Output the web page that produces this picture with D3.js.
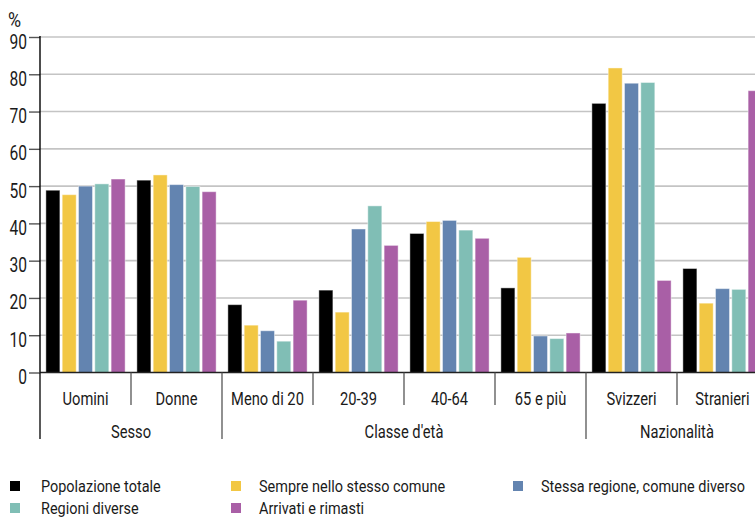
<!DOCTYPE html>
<html><head><meta charset="utf-8">
<script src="https://cdn.jsdelivr.net/npm/d3@7"></script>
<style>
html,body{margin:0;padding:0;background:#fff;}
svg text{font-family:Roboto,"Noto Sans",sans-serif;fill:#1a1a1a;}
</style></head>
<body>
<svg id="chart" width="755" height="517"></svg>
<script>
const categories = ["Uomini","Donne","Meno di 20","20-39","40-64","65 e più","Svizzeri","Stranieri"];
const groups = [
  {name:"Sesso", from:0, to:2},
  {name:"Classe d'età", from:2, to:6},
  {name:"Nazionalità", from:6, to:8}
];
const seriesNames = ["Popolazione totale","Sempre nello stesso comune","Stessa regione, comune diverso","Regioni diverse","Arrivati e rimasti"];
const seriesColors = ["#000000","#f2c744","#6384b0","#80beb5","#a95fa6"];
const popolazioneTotale = [48.9,51.6,18.2,22.1,37.3,22.7,72.2,27.9];
const sempreStessoComune = [47.7,53.0,12.7,16.2,40.5,30.9,81.7,18.6];
const stessaRegione = [50.0,50.4,11.2,38.5,40.8,9.8,77.6,22.5];
const regioniDiverse = [50.6,49.9,8.4,44.7,38.2,9.1,77.8,22.3];
const arrivatiRimasti = [51.9,48.5,19.4,34.1,36.0,10.6,24.7,75.6];
const seriesValues = [popolazioneTotale,sempreStessoComune,stessaRegione,regioniDiverse,arrivatiRimasti];
const yTicks = [0,10,20,30,40,50,60,70,80,90];

const svg = d3.select("#chart");
const mLeft = 40, mTop = 37, mBottom = 372.5, catW = 91;
const x = d3.scaleBand().domain(categories).range([mLeft, mLeft + catW*categories.length]).padding(0);
const xs = d3.scaleBand().domain(d3.range(seriesNames.length)).range([0, x.bandwidth()]).paddingInner(0.14).paddingOuter(0.36);
const y = d3.scaleLinear().domain([0,90]).range([mBottom, mTop]);

function ctext(sel, tx, ty, size, sx, anchor){
  return sel.append("text")
    .attr("transform", `translate(${tx},${ty}) scale(${sx},1)`)
    .attr("font-size", size).attr("text-anchor", anchor||"start");
}

// gridlines
svg.append("g").selectAll("line").data(yTicks.filter(d=>d>0)).join("line")
  .attr("x1", mLeft).attr("x2", 755).attr("y1", d=>y(d)).attr("y2", d=>y(d))
  .attr("stroke","#c4c4c4").attr("stroke-width",1.6);

// bars
const cg = svg.append("g").selectAll("g").data(categories).join("g")
  .attr("transform", d=>`translate(${x(d)},0)`);
cg.selectAll("rect").data((c,ci)=>seriesValues.map((s,si)=>({si, v:s[ci]}))).join("rect")
  .attr("x", d=>xs(d.si)).attr("width", xs.bandwidth())
  .attr("y", d=>y(d.v)).attr("height", d=>mBottom - y(d.v))
  .attr("fill", d=>seriesColors[d.si])
  .attr("stroke","#ffffff").attr("stroke-opacity",0.45).attr("stroke-width",1);

// y axis
const yAxis = d3.axisLeft(y).tickValues(yTicks).tickSize(11).tickPadding(3);
const ya = svg.append("g").attr("transform",`translate(${mLeft},0)`).call(yAxis);
ya.select(".domain").remove();
ya.selectAll(".tick line").attr("stroke","#555").attr("stroke-width",1.4);
ya.selectAll(".tick text")
  .attr("x",null).attr("dy","0.36em")
  .attr("transform",`translate(-13,4) scale(0.8,1)`)
  .attr("font-size",19.5).attr("font-family",null).attr("fill","#1a1a1a");
svg.append("line").attr("x1",mLeft).attr("x2",mLeft).attr("y1",mTop-1).attr("y2",mBottom).attr("stroke","#000").attr("stroke-width",1.4);
ctext(svg, 8, 27, 21, 0.85).text("%");

// x axis baseline
svg.append("line").attr("x1",mLeft).attr("x2",755).attr("y1",mBottom).attr("y2",mBottom).attr("stroke","#222").attr("stroke-width",1.4);

// category separators
const groupStarts = new Set(groups.map(g=>g.from));
const bounds = d3.range(categories.length);
svg.append("g").selectAll("line").data(bounds).join("line")
  .attr("x1", i=>x(categories[i])).attr("x2", i=>x(categories[i]))
  .attr("y1", mBottom).attr("y2", i=>groupStarts.has(i)?439:405)
  .attr("stroke", i=>i===0?"#000":"#555").attr("stroke-width",1.3);

// category labels
const cl = svg.append("g");
categories.forEach(c=>{ ctext(cl, x(c)+x.bandwidth()/2, 405, 17.5, 0.84, "middle").text(c); });

// group labels
const gl = svg.append("g");
groups.forEach(g=>{
  const cx = (x(categories[g.from]) + x(categories[g.to-1]) + x.bandwidth())/2;
  ctext(gl, cx, 438, 17.5, 0.84, "middle").text(g.name);
});

// legend
const legendSq = [[10,481],[231,481],[513,481],[10,503],[231,503]];
const legendTx = [41,259,541,41,259];
const lg = svg.append("g");
seriesNames.forEach((s,i)=>{
  const [lx,ly] = legendSq[i];
  lg.append("rect").attr("x",lx).attr("y",ly).attr("width",10).attr("height",10).attr("fill",seriesColors[i]);
  ctext(lg, legendTx[i], ly+11, 17, 0.85, "start").text(s);
});
</script>
</body></html>
